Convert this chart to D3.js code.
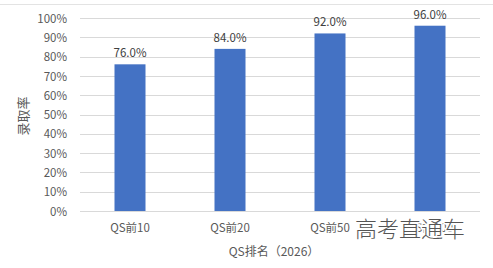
<!DOCTYPE html>
<html><head><meta charset="utf-8">
<script src="https://cdn.jsdelivr.net/npm/d3@7"></script>
<style>body{margin:0;background:#fff}svg{display:block}text{font-family:"Noto Sans CJK SC","Noto Sans",sans-serif}</style>
</head><body>
<svg id="c" width="493" height="268"></svg>
<script>
const categories = ["QS前10","QS前20","QS前50","QS前100"];
const values = [76.0, 84.0, 92.0, 96.0];
const yTicks = [0,10,20,30,40,50,60,70,80,90,100];
const xTitle = "QS排名（2026）";
const yTitle = "录取率";
const watermark = "高考直通车";

const svg = d3.select("#c");
svg.append("line").attr("x1",0).attr("x2",493).attr("y1",4.5).attr("y2",4.5).attr("stroke","#e3e3e3");

const x = d3.scaleBand().domain(categories).range([80,480]).paddingInner(0.69).paddingOuter(0.345);
const y = d3.scaleLinear().domain([0,100]).range([211,18]);

const g = svg.append("g");
g.selectAll("line.grid").data(yTicks).join("line").attr("class","grid")
 .attr("x1",80).attr("x2",480).attr("y1",d=>Math.round(y(d))+0.5).attr("y2",d=>Math.round(y(d))+0.5)
 .attr("stroke","#d9d9d9").attr("stroke-width",1);

const yAxis = d3.axisLeft(y).tickValues(yTicks).tickFormat(d=>d+"%").tickSize(0).tickPadding(0);
const ya = svg.append("g").attr("transform","translate(67,0)").call(yAxis);
ya.select(".domain").remove();
ya.selectAll("text").attr("fill","#595959").style("font-size","11.5px").attr("dy","0.36em");

g.selectAll("rect").data(values).join("rect")
 .attr("x",(d,i)=>x(categories[i])).attr("width",x.bandwidth())
 .attr("y",d=>y(d)).attr("height",d=>y(0)-y(d)).attr("fill","#4472c4");

g.selectAll("text.lbl").data(values).join("text").attr("class","lbl")
 .attr("x",(d,i)=>x(categories[i])+x.bandwidth()/2).attr("y",d=>y(d)-7)
 .attr("text-anchor","middle").attr("fill","#404040").style("font-size","11.5px")
 .text(d=>d.toFixed(1)+"%");

const xAxis = d3.axisBottom(x).tickSize(0).tickPadding(0);
const xa = svg.append("g").attr("transform","translate(0,224)").call(xAxis);
xa.select(".domain").remove();
xa.selectAll("text").attr("fill","#595959").style("font-size","11.5px").attr("dy","0.71em");

svg.append("text").attr("x",274).attr("y",256).attr("text-anchor","middle")
 .attr("fill","#595959").style("font-size","12px").text(xTitle);
svg.append("text").attr("transform","translate(28,116) rotate(-90)").attr("text-anchor","middle")
 .attr("fill","#595959").style("font-size","13px").text(yTitle);

svg.append("text").attr("x",410).attr("y",237).attr("text-anchor","middle")
 .attr("fill","#555").attr("stroke","#fff").attr("stroke-width",3).attr("paint-order","stroke")
 .style("font-size","22px").style("font-weight","300").text(watermark);
</script>
</body></html>
